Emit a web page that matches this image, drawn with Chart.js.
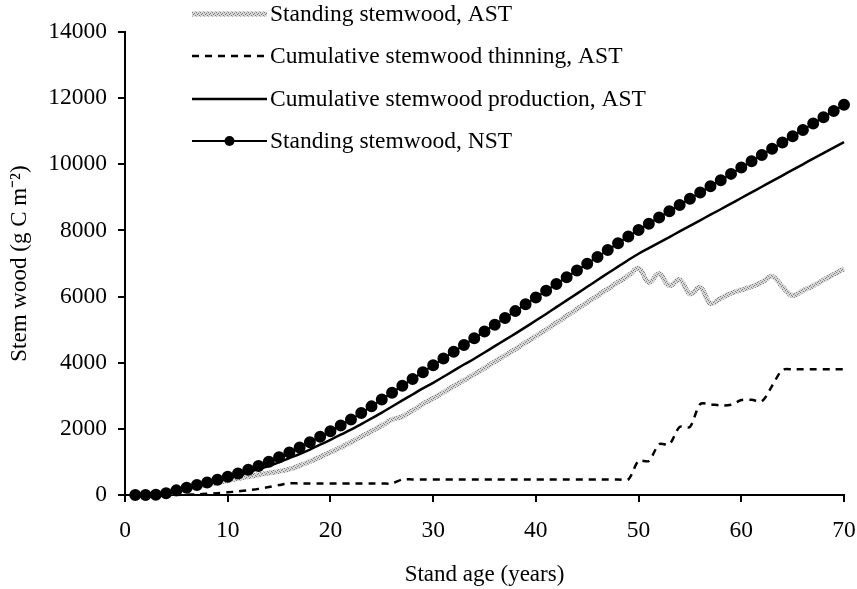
<!DOCTYPE html>
<html lang="en">
<head>
    <meta charset="UTF-8">
    <title>Stem wood vs stand age</title>
    <script src="https://cdn.jsdelivr.net/npm/chart.js"></script>
    <style>
        body, html {
            margin: 0;
            padding: 0;
            background-color: #ffffff;
        }
        #wrap {
            width: 857px;
            height: 589px;
        }
    </style>
</head>
<body>
    <div id="wrap">
        <canvas id="stemChart" width="857" height="589"></canvas>
    </div>

    <script>
        // Stand age (years)
        const ages = [1, 2, 3, 4, 5, 6, 7, 8, 9, 10,
            11, 12, 13, 14, 15, 16, 17, 18, 19, 20,
            21, 22, 23, 24, 25, 26, 27, 28, 29, 30,
            31, 32, 33, 34, 35, 36, 37, 38, 39, 40,
            41, 42, 43, 44, 45, 46, 47, 48, 49, 50,
            51, 52, 53, 54, 55, 56, 57, 58, 59, 60,
            61, 62, 63, 64, 65, 66, 67, 68, 69, 70];

        // Standing stemwood, AST
        const standingAST = [0, 0, 10, 45, 120, 190, 260, 320, 380, 440,
            500, 560, 615, 665, 715, 780, 890, 1015, 1150, 1290,
            1440, 1595, 1760, 1930, 2100, 2280, 2370, 2560, 2750, 2925,
            3105, 3290, 3470, 3650, 3840, 4030, 4220, 4410, 4605, 4805,
            5005, 5210, 5415, 5620, 5825, 6030, 6235, 6435, 6635, 6850,
            6430, 6690, 6330, 6510, 6080, 6280, 5790, 5950, 6100, 6200,
            6300, 6430, 6610, 6300, 6030, 6180, 6330, 6500, 6670, 6840];

        // Cumulative stemwood thinning, AST
        const thinningAST = [0, 0, 0, 0, 0, 10, 20, 35, 55, 80,
            110, 145, 185, 240, 300, 350, 350, 350, 350, 350,
            350, 350, 350, 350, 350, 350, 470, 470, 470, 470,
            470, 470, 470, 470, 470, 470, 470, 470, 470, 470,
            470, 470, 470, 470, 470, 470, 470, 470, 470, 1030,
            1030, 1535, 1535, 2060, 2060, 2750, 2740, 2710, 2730, 2870,
            2880, 2830, 3300, 3780, 3800, 3800, 3800, 3800, 3800, 3800];

        // Cumulative stemwood production, AST
        const productionAST = [0, 0, 10, 45, 130, 205, 280, 350, 425, 500,
            590, 685, 785, 875, 990, 1115, 1240, 1375, 1520, 1670,
            1825, 1975, 2145, 2315, 2490, 2675, 2860, 3040, 3225, 3390,
            3575, 3760, 3945, 4120, 4310, 4500, 4690, 4880, 5075, 5275,
            5475, 5680, 5885, 6090, 6295, 6500, 6705, 6905, 7105, 7295,
            7465, 7630, 7800, 7970, 8135, 8305, 8475, 8640, 8810, 8980,
            9150, 9320, 9490, 9660, 9830, 10000, 10170, 10335, 10505, 10670];

        // Standing stemwood, NST
        const standingNST = [0, 0, 10, 50, 140, 220, 300, 375, 460, 550,
            650, 760, 880, 1005, 1140, 1285, 1435, 1595, 1760, 1930,
            2105, 2285, 2480, 2680, 2885, 3095, 3305, 3510, 3715, 3920,
            4125, 4330, 4535, 4740, 4945, 5150, 5355, 5560, 5765, 5970,
            6175, 6380, 6585, 6790, 6995, 7200, 7405, 7610, 7815, 8015,
            8205, 8390, 8580, 8770, 8955, 9145, 9335, 9520, 9710, 9900,
            10090, 10280, 10470, 10660, 10850, 11040, 11230, 11420, 11610, 11800];

        const xTicks = [0, 10, 20, 30, 40, 50, 60, 70];
        const yTicks = [0, 2000, 4000, 6000, 8000, 10000, 12000, 14000];

        const serif = "'Liberation Serif', 'Times New Roman', serif";

        // textured grey line like the spreadsheet pattern fill
        function makePattern() {
            const c = document.createElement('canvas');
            c.width = 4;
            c.height = 4;
            const g = c.getContext('2d');
            g.fillStyle = '#d6d6d6';
            g.fillRect(0, 0, 4, 4);
            g.fillStyle = '#808080';
            g.fillRect(0, 0, 1, 1);
            g.fillRect(2, 1, 1, 1);
            g.fillRect(1, 2, 1, 1);
            g.fillRect(3, 3, 1, 1);
            return g.createPattern(c, 'repeat');
        }
        const greyPattern = makePattern();

        function pts(values) {
            return ages.map((a, i) => ({ x: a, y: values[i] }));
        }

        // legend drawn by hand at top-left of the plot, as in the original
        const legendPlugin = {
            id: 'handLegend',
            afterDatasetsDraw(chart) {
                const ctx = chart.ctx;
                const rows = [14, 56, 99, 141];
                const x0 = 192, x1 = 267, tx = 270;
                ctx.save();
                chart.data.datasets.forEach((ds, i) => {
                    const y = rows[i];
                    ctx.beginPath();
                    ctx.moveTo(x0, y);
                    ctx.lineTo(x1, y);
                    ctx.strokeStyle = ds.borderColor;
                    ctx.lineWidth = ds.borderWidth;
                    ctx.setLineDash(ds.borderDash || []);
                    ctx.stroke();
                    ctx.setLineDash([]);
                    if (ds.pointRadius > 0) {
                        ctx.beginPath();
                        ctx.arc((x0 + x1) / 2, y, ds.pointRadius, 0, Math.PI * 2);
                        ctx.fillStyle = '#000';
                        ctx.fill();
                    }
                    ctx.fillStyle = '#000';
                    ctx.font = '23.5px ' + serif;
                    ctx.textAlign = 'left';
                    ctx.textBaseline = 'middle';
                    ctx.fillText(ds.label, tx, y + 1);
                });
                ctx.restore();
            }
        };

        new Chart(document.getElementById('stemChart').getContext('2d'), {
            type: 'line',
            data: {
                datasets: [{
                    label: 'Standing stemwood, AST',
                    data: pts(standingAST),
                    borderColor: greyPattern,
                    borderWidth: 5,
                    pointRadius: 0,
                    tension: 0.4,
                    fill: false,
                    order: 4
                }, {
                    label: 'Cumulative stemwood thinning, AST',
                    data: pts(thinningAST),
                    borderColor: '#000',
                    borderWidth: 2.5,
                    borderDash: [7, 6],
                    pointRadius: 0,
                    tension: 0.3,
                    fill: false,
                    order: 3
                }, {
                    label: 'Cumulative stemwood production, AST',
                    data: pts(productionAST),
                    borderColor: '#000',
                    borderWidth: 2.5,
                    pointRadius: 0,
                    tension: 0.4,
                    fill: false,
                    order: 2
                }, {
                    label: 'Standing stemwood, NST',
                    data: pts(standingNST),
                    borderColor: '#000',
                    backgroundColor: '#000',
                    borderWidth: 2,
                    pointRadius: 5,
                    pointBackgroundColor: '#000',
                    pointBorderColor: '#000',
                    tension: 0.4,
                    fill: false,
                    order: 1
                }]
            },
            options: {
                responsive: false,
                animation: false,
                clip: false,
                layout: {
                    padding: { top: 32, right: 13, left: 0, bottom: 0 }
                },
                plugins: {
                    legend: { display: false },
                    tooltip: { enabled: false }
                },
                scales: {
                    x: {
                        type: 'linear',
                        min: 0,
                        max: 70,
                        afterBuildTicks: (s) => { s.ticks = xTicks.map(v => ({ value: v })); },
                        afterFit: (s) => {
                            s.height = 94;
                            s.paddingLeft = 0;
                            s.paddingRight = 0;
                        },
                        grid: {
                            drawOnChartArea: false,
                            drawTicks: true,
                            tickLength: 7,
                            color: '#000',
                            lineWidth: 2
                        },
                        border: { color: '#000', width: 2 },
                        ticks: {
                            color: '#000',
                            padding: 15,
                            maxRotation: 0,
                            font: { family: serif, size: 23.5 },
                            callback: (v) => String(v)
                        },
                        title: {
                            display: true,
                            text: 'Stand age (years)',
                            color: '#000',
                            font: { family: serif, size: 23 },
                            padding: { top: 0, bottom: 0 }
                        }
                    },
                    y: {
                        min: 0,
                        max: 14000,
                        afterBuildTicks: (s) => { s.ticks = yTicks.map(v => ({ value: v })); },
                        afterFit: (s) => { s.width = 125; },
                        grid: {
                            drawOnChartArea: false,
                            drawTicks: true,
                            tickLength: 7,
                            color: '#000',
                            lineWidth: 2
                        },
                        border: { color: '#000', width: 2 },
                        ticks: {
                            color: '#000',
                            padding: 11,
                            font: { family: serif, size: 23.5 },
                            callback: (v) => String(v)
                        },
                        title: {
                            display: true,
                            text: 'Stem wood (g C m\u207B\u00B2)',
                            color: '#000',
                            font: { family: serif, size: 23 },
                            padding: { top: 6, bottom: 0 }
                        }
                    }
                }
            },
            plugins: [legendPlugin]
        });
    </script>
</body>
</html>
